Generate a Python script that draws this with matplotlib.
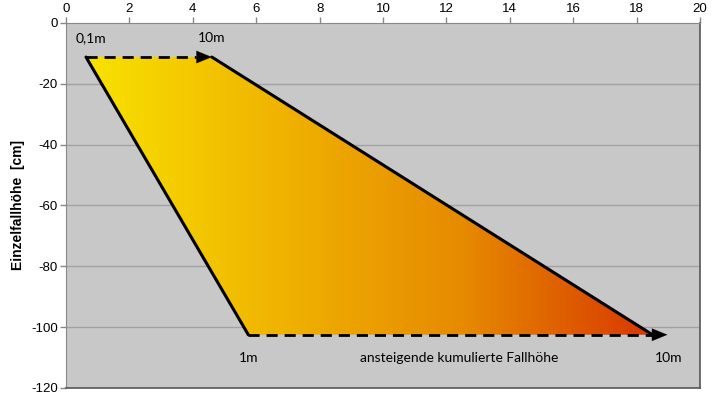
import numpy as np
import matplotlib
matplotlib.use("Agg")
import matplotlib.pyplot as plt
from matplotlib.patches import Polygon
from matplotlib.colors import LinearSegmentedColormap

plt.rcParams["axes.unicode_minus"] = False

# corner points of the area (x, Einzelfallhoehe in cm)
area_x = [0.63, 4.6, 18.5, 5.75]
area_y = [-11.2, -11.2, -102.5, -102.5]

# dashed arrows (start x, end x, y)
arrow_top = [0.63, 4.6, -11.2]
arrow_bottom = [5.75, 18.97, -102.5]

# text labels
label_text = ["0,1m", "10m", "1m", "ansteigende kumulierte Fallhöhe", "10m"]
label_x = [0.8, 4.6, 5.75, 12.4, 19.0]
label_y = [-5.0, -5.0, -110.2, -110.2, -110.2]

xticks = [0, 2, 4, 6, 8, 10, 12, 14, 16, 18, 20]
yticks = [0, -20, -40, -60, -80, -100, -120]

fig = plt.figure(figsize=(7.2, 3.99), dpi=100)
ax = fig.add_axes([0.0917, 0.0276, 0.8806, 0.9148])
ax.set_facecolor("#c8c8c8")
ax.set_xlim(0, 20)
ax.set_ylim(-120, 0)

for yv in yticks[1:-1]:
    ax.axhline(yv, color="#a2a2a2", lw=1, zorder=1)

# gradient fill clipped to the polygon
cmap = LinearSegmentedColormap.from_list("fall", ["#f8e200", "#f0b400", "#e68a00", "#d83800"])
grad = np.linspace(0, 1, 256).reshape(1, -1)
poly = Polygon(list(zip(area_x, area_y)), closed=True, facecolor="none", edgecolor="none")
ax.add_patch(poly)
im = ax.imshow(grad, extent=[min(area_x), max(area_x), min(area_y), max(area_y)],
               aspect="auto", cmap=cmap, zorder=2)
im.set_clip_path(poly)

# solid sides
ax.plot([area_x[0], area_x[3]], [area_y[0], area_y[3]], color="black", lw=2.2, zorder=3,
        solid_capstyle="round")
ax.plot([area_x[1], area_x[2]], [area_y[1], area_y[2]], color="black", lw=2.2, zorder=3,
        solid_capstyle="round")

# dashed arrows
for x0, x1, yv in [arrow_top, arrow_bottom]:
    ax.plot([x0, x1 - 0.5], [yv, yv], color="black", lw=2, ls=(0, (4, 2.5)), zorder=3)
    ax.annotate("", xy=(x1, yv), xytext=(x1 - 0.5, yv),
                arrowprops=dict(arrowstyle="-|>,head_length=1.1,head_width=0.45",
                                color="black", lw=0.1, shrinkA=0, shrinkB=0), zorder=4)

for t, xv, yv in zip(label_text, label_x, label_y):
    ax.text(xv, yv, t, ha="center", va="center", fontsize=10, family="Lato", color="black")

ax.xaxis.tick_top()
ax.set_xticks(xticks)
ax.set_yticks(yticks)
ax.tick_params(axis="both", labelsize=9.5, color="#888888", length=4, width=1, pad=2)
for lab in ax.get_xticklabels() + ax.get_yticklabels():
    lab.set_family("Liberation Sans")
ax.set_ylabel("Einzelfallhöhe  [cm]", fontsize=10, fontweight="bold", family="Liberation Sans",
              labelpad=4)
for side in ["left", "top"]:
    ax.spines[side].set_color("#888888")
for side in ["right", "bottom"]:
    ax.spines[side].set_color("#555555")
    ax.spines[side].set_linewidth(1.2)

fig.savefig("out.png", dpi=100)
